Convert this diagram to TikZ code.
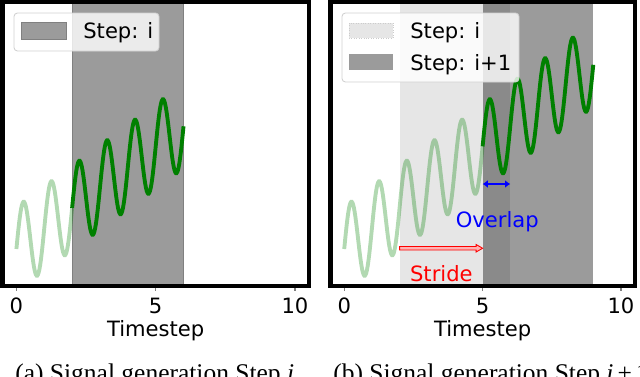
\documentclass[tikz,border=0pt]{standalone}
\usepackage{fontspec}
\setmainfont{Liberation Serif}
\newfontfamily\plotfont{DejaVu Sans}
\usepackage{xcolor}
\usepackage{tikz}
\usetikzlibrary{arrows.meta}
\definecolor{mplgreen}{RGB}{0,128,0}
\definecolor{shadedark}{RGB}{155,155,155}
\definecolor{shadelight}{RGB}{230,230,230}
\definecolor{shadeover}{RGB}{138,138,138}

\begin{document}
\begin{tikzpicture}[x=0.02cm,y=-0.02cm,
  font=\plotfont\fontsize{12}{14}\selectfont,
  axisframe/.style={line width=2.3pt},
  sigfaint/.style={mplgreen,draw opacity=0.3,line width=2.2pt},
  sigbold/.style={mplgreen,line width=2.2pt},
  legendbox/.style={draw=black!18,fill=white,fill opacity=0.8,rounded corners=2pt,line width=0.5pt},
  ticklabel/.style={anchor=base},
  legendtext/.style={anchor=base west,inner sep=0pt},
  captext/.style={anchor=base west,inner sep=0pt,font=\rmfamily\fontsize{14.5}{16}\selectfont},
  ovarrow/.style={blue,line width=1.1pt,{Latex[length=3pt,width=4.5pt]}-{Latex[length=3pt,width=4.5pt]}},
  stridebody/.style={draw=red,fill=red!30,line width=0.5pt}]
\useasboundingbox (0,0) rectangle (640,376);

% (a) step i
\begin{scope}[xshift=0.328cm,x=0.5573cm]
\filldraw[fill=shadedark,draw=gray,line width=0.4pt](2,0) rectangle (6,286);
\draw[sigfaint] plot[domain=0:2,samples=81](\x,{249-20.5*\x-42*sin(360*\x)});
\draw[sigbold] plot[domain=2:6,samples=161](\x,{249-20.5*\x-42*sin(360*\x)});
\foreach \t in {0,5,10}{
  \draw[gray,line width=0.6pt](\t,288)--(\t,291);
  \node[ticklabel] (ta\t) at (\t,313) {\t};
}
\node[anchor=base] (xa) at (5,336) {Timestep};
\end{scope}
\draw[axisframe](2.5,1.5) rectangle (309,286);
\draw[legendbox](14,13) rectangle (159,51);
\filldraw[fill=shadedark,draw=gray](21,22) rectangle (66,39);
\node[legendtext] (la) at (83,38.5) {Step: i};

% (b) step i+1
\begin{scope}[xshift=6.886cm,x=0.5536cm]
\fill[shadelight](2,0) rectangle (5,286);
\fill[shadeover](5,0) rectangle (6,286);
\fill[shadedark](6,0) rectangle (9,286);
\draw[sigfaint] plot[domain=0:5,samples=201](\x,{249-20.5*\x-42*sin(360*\x)});
\draw[sigbold] plot[domain=5:9,samples=161](\x,{249-20.5*\x-42*sin(360*\x)});
\foreach \t in {0,5,10}{
  \draw[gray,line width=0.6pt](\t,288)--(\t,291);
  \node[ticklabel] (tb\t) at (\t,313) {\t};
}
\node[anchor=base] (xb) at (5,336) {Timestep};
\coordinate (ovl) at (5,184);
\coordinate (ovr) at (6,184);
\coordinate (sl) at (2,248.25);
\coordinate (sr) at (5,248.25);
\node[anchor=base,text=blue] (ovtext) at (5.53,227) {Overlap};
\node[anchor=base,text=red] (stext) at (3.51,281) {Stride};
\end{scope}
\draw[ovarrow](ovl)--(ovr);
\draw[stridebody](sl)++(0,-1.75)--++(76.5,0)--++(0,-2)--(sr)--++(-6.5,3.75)--++(0,-2)--++(-76.5,0)--cycle;
\draw[axisframe](330.5,1.5) rectangle (635,286);
\draw[legendbox](342,13) rectangle (519,82);
\filldraw[fill=shadelight,draw=gray!40,densely dotted](349,23) rectangle (393,38);
\fill[shadedark](349,54) rectangle (393,70);
\node[legendtext] (lb1) at (410,38) {Step: i};
\node[legendtext] (lb2) at (410,70) {Step: i+1};

% captions
\node[captext] (capa) at (15,381) {(a) Signal generation Step \textit{i}};
\node[captext] (capb) at (333,381) {(b) Signal generation Step \textit{i}\kern0.16em+\kern0.16em1};
\end{tikzpicture}
\end{document}
